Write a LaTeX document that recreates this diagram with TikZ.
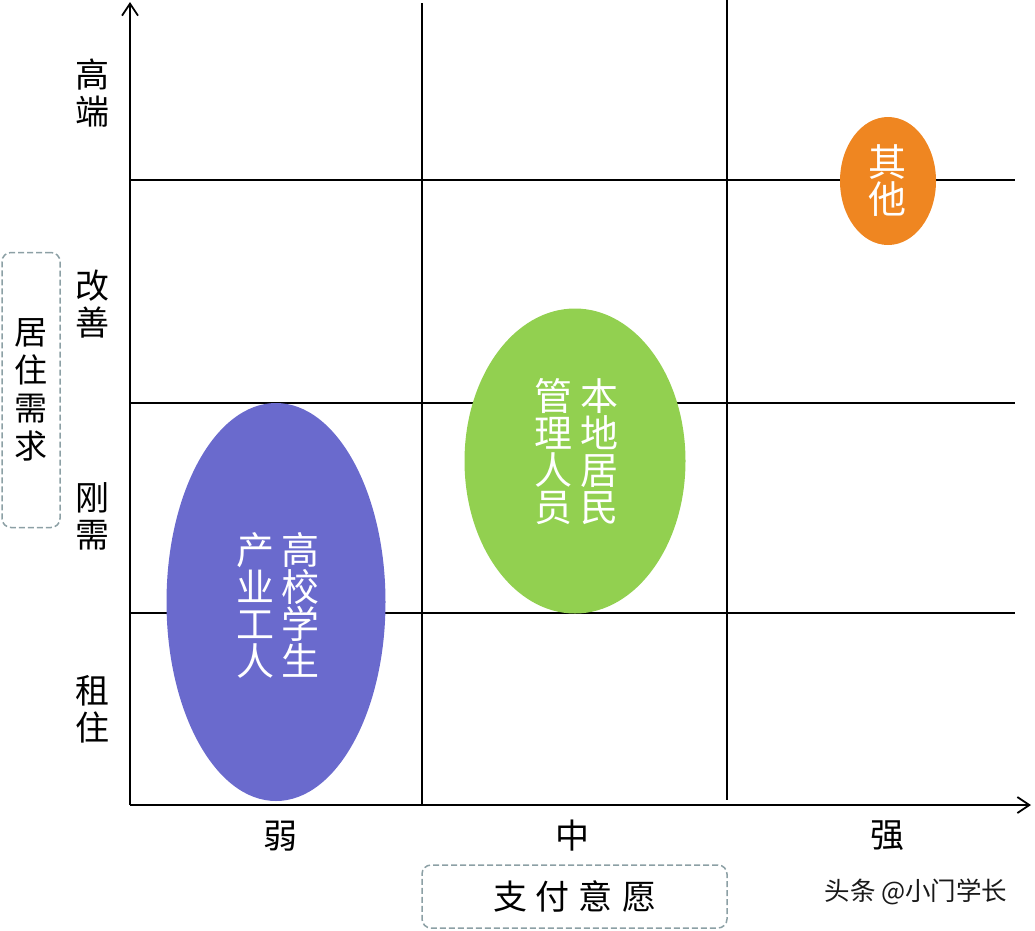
\documentclass[tikz,border=0pt]{standalone}
\usepackage{fontspec}
\setmainfont{Noto Sans CJK SC}
\usetikzlibrary{shapes.geometric,arrows.meta}
\definecolor{purp}{RGB}{106,106,205}
\definecolor{grn}{RGB}{146,208,80}
\definecolor{org}{RGB}{239,134,33}
\definecolor{boxc}{RGB}{140,160,165}
\definecolor{wmc}{RGB}{25,25,25}
\begin{document}
\begin{tikzpicture}[x=1pt,y=-1pt,
  axisline/.style={line width=1.8pt,-{Straight Barb[length=12pt,width=16pt,line width=1.8pt]}},
  gridline/.style={line width=1.8pt},
  lab/.style={font=\fontsize{34}{37}\selectfont,align=center,inner sep=0pt},
  boxlab/.style={font=\fontsize{33}{38}\selectfont,align=center,inner sep=0pt},
  eltxt/.style={font=\fontsize{38}{37}\selectfont,align=center,text=white,inner sep=0pt},
  blob/.style={ellipse,inner sep=0pt,draw=none},
  dbox/.style={draw=boxc,dash pattern=on 6pt off 3pt,line width=1.5pt,rounded corners=9pt,inner sep=0pt}]
\useasboundingbox (0,0) rectangle (1035,930);
% coordinates
\coordinate (o) at (130,805);
\coordinate (ytop) at (130,2);
\coordinate (xend) at (1031,805);
\coordinate (v1t) at (422,3);
\coordinate (v1b) at (422,805);
\coordinate (v2t) at (727,0);
\coordinate (v2b) at (727,800);
\coordinate (h1l) at (130,180);
\coordinate (h1r) at (1015,180);
\coordinate (h2l) at (130,403);
\coordinate (h2r) at (1015,403);
\coordinate (h3l) at (130,613);
\coordinate (h3r) at (1015,613);
% grid
\draw[gridline] (v1t) -- (v1b);
\draw[gridline] (v2t) -- (v2b);
\draw[gridline] (h1l) -- (h1r);
\draw[gridline] (h2l) -- (h2r);
\draw[gridline] (h3l) -- (h3r);
% axes
\draw[axisline] (o) -- (ytop);
\draw[axisline] (o) -- (xend);
% ellipses
\node[blob,fill=purp,minimum width=219pt,minimum height=398pt] (pe) at (276,602) {};
\node[blob,fill=grn,minimum width=221pt,minimum height=305pt] (ge) at (575,461) {};
\node[blob,fill=org,minimum width=96pt,minimum height=128pt] (oe) at (888,181) {};
\node[eltxt] (pt1) at (300,605) {高\\校\\学\\生};
\node[eltxt] (pt2) at (255,605) {产\\业\\工\\人};
\node[eltxt] (gt1) at (599,452) {本\\地\\居\\民};
\node[eltxt] (gt2) at (553,452) {管\\理\\人\\员};
\node[eltxt] (ot) at (887,181) {其\\他};
% y labels
\node[lab] (y1) at (92,93) {高\\端};
\node[lab] (y2) at (92,304) {改\\善};
\node[lab] (y3) at (92,516) {刚\\需};
\node[lab] (y4) at (92,709) {租\\住};
% x labels
\node[lab] (x1) at (280,836) {弱};
\node[lab] (x2) at (572,836) {中};
\node[lab] (x3) at (887,836) {强};
% boxes
\node[dbox,boxlab,minimum width=58pt,minimum height=275pt] (ybox) at (31,390) {居\\住\\需\\求};
\node[dbox,minimum width=305pt,minimum height=63pt,font=\fontsize{34}{37}\selectfont] (xbox) at (574.5,896.5) {支\hspace{9pt}付\hspace{9pt}意\hspace{9pt}愿};
% watermark
\node[inner sep=0pt,font=\fontsize{25.5}{27}\selectfont,text=wmc] (wm) at (916,892) {头条 @小门学长};
\end{tikzpicture}
\end{document}
